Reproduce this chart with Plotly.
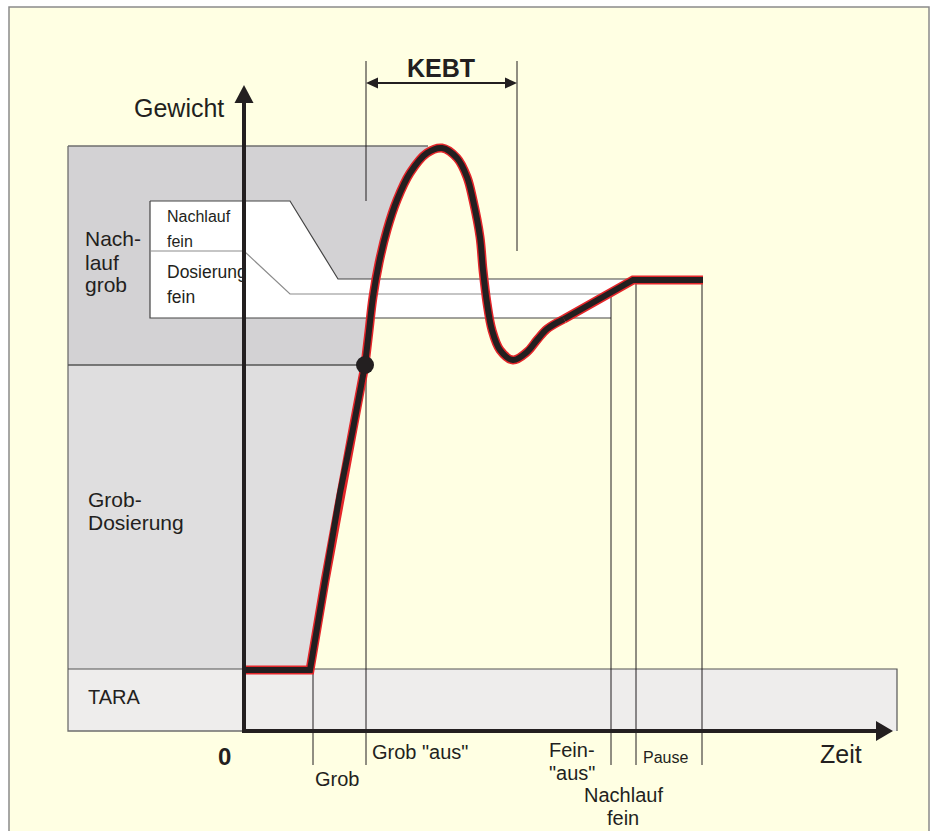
import plotly.graph_objects as go

# ---------------- data (time t, weight w; origin = axis crossing) ----------------
curve_t = [-2, 66, 81, 96, 109, 121, 125, 129, 135, 143, 153, 166, 183, 198, 213, 223,
           229, 236, 239, 243, 248, 256, 269, 283, 293, 303, 320, 389, 459]
curve_w = [61, 61, 150, 238, 302, 366, 400, 434, 468, 501, 531, 558, 578, 583, 573, 554,
           531, 494, 461, 428, 401, 381, 371, 379, 391, 402, 412, 451, 451]
DOT_IDX = 5          # Grob "aus" point on the curve; smooth part starts here
SPLINE_TO = 26       # last index of the smooth part
PEAK_IDX = 13

# levels of the bands (weight)
tara_w = 62
grob_dos_w = 366
nachlauf_grob_w = 585
zone_left_t = -176
tara_right_t = 653
gray_top_right_t = 184

# fine-dosing box
box_left_t = -94
box_top_w = 530
box_div_w = 480
box_bottom_w = 413
nachlauf_fein_diag_t = [46, 94]
nachlauf_fein_w = 452
nachlauf_fein_end_t = 393
dos_fein_diag_t = [0, 46]
dos_fein_w = 437
dos_fein_end_t = 367

# events on the time axis
event_labels = ["Grob", 'Grob "aus"', 'Fein-"aus"', "Nachlauf fein", "Pause"]
event_t = [69, 122, 367, 392, 458]
event_top_w = [62, 366, 437, 451, 451]
event_bottom_w = -34

# KEBT span
kebt_t = [122, 273]
kebt_w = 648
kebt_line_top_w = 670
kebt_line_bottom_w = [530, 480]

# axes
yaxis_tip_w = 646
xaxis_tip_t = 649

# ---------------- style ----------------
CREAM = "#FFFFE3"
DARK_GRAY = "#D3D2D4"
LIGHT_GRAY = "#DFDEDF"
TARA_GRAY = "#EEEDEC"
INK = "#231F20"
RED = "#E4262A"
FONT = "Liberation Sans, Arial, sans-serif"

fig = go.Figure()


def poly(ts, ws, color):
    fig.add_trace(go.Scatter(x=ts, y=ws, mode="lines", fill="toself", fillcolor=color,
                             line=dict(width=0, color=color), hoverinfo="skip"))


def line(ts, ws, color, width, shape="linear"):
    fig.add_trace(go.Scatter(x=ts, y=ws, mode="lines",
                             line=dict(color=color, width=width, shape=shape),
                             hoverinfo="skip"))


# gray zones left of the rising curve
rise_t = curve_t[1:PEAK_IDX]
rise_w = curve_w[1:PEAK_IDX]
dark_t = [zone_left_t, gray_top_right_t] + [t for t, w in zip(rise_t[::-1], rise_w[::-1]) if w >= grob_dos_w] + [zone_left_t]
dark_w = [nachlauf_grob_w, nachlauf_grob_w] + [w for w in rise_w[::-1] if w >= grob_dos_w] + [grob_dos_w]
poly(dark_t, dark_w, DARK_GRAY)

light_t = [zone_left_t] + [t for t, w in zip(rise_t[::-1], rise_w[::-1]) if w <= grob_dos_w] + [curve_t[1], zone_left_t]
light_w = [grob_dos_w] + [w for w in rise_w[::-1] if w <= grob_dos_w] + [tara_w, tara_w]
poly(light_t, light_w, LIGHT_GRAY)

# TARA band
poly([zone_left_t, tara_right_t, tara_right_t, zone_left_t],
     [0, 0, tara_w, tara_w], TARA_GRAY)

# white fine-dosing band
white_t = [box_left_t, nachlauf_fein_diag_t[0], nachlauf_fein_diag_t[1], curve_t[-2],
           dos_fein_end_t, dos_fein_end_t, box_left_t]
white_w = [box_top_w, box_top_w, nachlauf_fein_w, nachlauf_fein_w,
           dos_fein_w, box_bottom_w, box_bottom_w]
poly(white_t, white_w, "white")

# edges of zones
EDGE = "#6E6E6E"
line([zone_left_t, gray_top_right_t], [nachlauf_grob_w] * 2, EDGE, 1.3)
line([zone_left_t, zone_left_t, 0], [nachlauf_grob_w, 0, 0], EDGE, 1.3)
line([zone_left_t, curve_t[DOT_IDX]], [grob_dos_w] * 2, "#555555", 1.3)
line([zone_left_t, tara_right_t, tara_right_t], [tara_w, tara_w, 0], "#555555", 1.2)

# box lines
line([box_left_t, nachlauf_fein_diag_t[0], nachlauf_fein_diag_t[1], nachlauf_fein_end_t],
     [box_top_w, box_top_w, nachlauf_fein_w, nachlauf_fein_w], "#444444", 1.2)
line([box_left_t, box_left_t, dos_fein_end_t], [box_top_w, box_bottom_w, box_bottom_w], "#444444", 1.2)
line([box_left_t, dos_fein_diag_t[0], dos_fein_diag_t[1], dos_fein_end_t],
     [box_div_w, box_div_w, dos_fein_w, dos_fein_w], "#8C8C8C", 1.2)

# event lines
for t, top in zip(event_t, event_top_w):
    line([t, t], [event_bottom_w, top], INK, 1)
for t, bot in zip(kebt_t, kebt_line_bottom_w):
    line([t, t], [kebt_line_top_w, bot], INK, 1)

# process curve: red outline, black core
for color, width in ((RED, 9), (INK, 6)):
    line(curve_t[:DOT_IDX + 1], curve_w[:DOT_IDX + 1], color, width)
    line(curve_t[DOT_IDX:SPLINE_TO + 1], curve_w[DOT_IDX:SPLINE_TO + 1], color, width, "spline")
    line(curve_t[SPLINE_TO:], curve_w[SPLINE_TO:], color, width)

fig.add_trace(go.Scatter(x=[curve_t[DOT_IDX]], y=[curve_w[DOT_IDX]], mode="markers",
                         marker=dict(size=18, color=INK), hoverinfo="skip"))

# axes with arrowheads
AX_W = 4
Y_HEAD_LEN, Y_HEAD_HALF = 18, 9.5
X_HEAD_LEN, X_HEAD_HALF = 17, 10
line([0, 0], [-2, yaxis_tip_w - Y_HEAD_LEN + 2], INK, AX_W)
line([-2, xaxis_tip_t - X_HEAD_LEN + 2], [0, 0], INK, AX_W)
poly([-Y_HEAD_HALF, Y_HEAD_HALF, 0, -Y_HEAD_HALF],
     [yaxis_tip_w - Y_HEAD_LEN, yaxis_tip_w - Y_HEAD_LEN, yaxis_tip_w, yaxis_tip_w - Y_HEAD_LEN], INK)
poly([xaxis_tip_t - X_HEAD_LEN, xaxis_tip_t - X_HEAD_LEN, xaxis_tip_t, xaxis_tip_t - X_HEAD_LEN],
     [X_HEAD_HALF, -X_HEAD_HALF, 0, X_HEAD_HALF], INK)

# KEBT double arrow
K_LEN, K_HALF = 12, 5.5
line([kebt_t[0] + K_LEN - 1, kebt_t[1] - K_LEN + 1], [kebt_w] * 2, INK, 2)
poly([kebt_t[0], kebt_t[0] + K_LEN, kebt_t[0] + K_LEN, kebt_t[0]],
     [kebt_w, kebt_w + K_HALF, kebt_w - K_HALF, kebt_w], INK)
poly([kebt_t[1], kebt_t[1] - K_LEN, kebt_t[1] - K_LEN, kebt_t[1]],
     [kebt_w, kebt_w + K_HALF, kebt_w - K_HALF, kebt_w], INK)

# ---------------- texts ----------------
texts = [
    # text, t, w, size, anchor, bold
    ("Gewicht", -65, 623, 25, "center", False),
    ("KEBT", 197, 663, 25, "center", True),
    ("0", -20, -25, 24, "center", True),
    ("Zeit", 597, -23, 25, "center", False),
    ("TARA", -158, 34, 20, "left", False),
    ("Grob-", -158, 231.5, 21, "left", False),
    ("Dosierung", -158, 208.5, 21, "left", False),
    ("Nach-", -161, 492.5, 21, "left", False),
    ("lauf", -161, 468.5, 21, "left", False),
    ("grob", -161, 447, 21, "left", False),
    ("Nachlauf", -79, 514.5, 16, "left", False),
    ("fein", -79, 490, 16, "left", False),
    ("Dosierung", -79, 459.5, 17.5, "left", False),
    ("fein", -79, 434.5, 17.5, "left", False),
    ("Grob", event_t[0], -48, 20, "left", False),
    ('Grob "aus"', event_t[1] + 4, -21, 20, "left", False),
    ("Fein-", 327.5, -19, 20, "center", False),
    ('"aus"', 327.5, -41.5, 20, "center", False),
    ("Nachlauf", 379.5, -63.5, 20, "center", False),
    ("fein", 379, -86.5, 20, "center", False),
    ("Pause", 421, -26.5, 16, "center", False),
]
for txt, t, w, size, anchor, bold in texts:
    fig.add_annotation(x=t, y=w, xref="x", yref="y", text=f"<b>{txt}</b>" if bold else txt,
                       showarrow=False, xanchor=anchor, yanchor="middle",
                       font=dict(family=FONT, size=size, color=INK))

# ---------------- layout ----------------
fig.update_layout(
    width=931, height=831, margin=dict(l=0, r=0, t=0, b=0),
    paper_bgcolor="white", plot_bgcolor="white", showlegend=False,
    xaxis=dict(range=[-244, 687], visible=False, fixedrange=True),
    yaxis=dict(range=[-100, 731], visible=False, fixedrange=True),
    shapes=[dict(type="rect", xref="x", yref="y", x0=-235, x1=685, y0=-120, y1=724,
                 fillcolor=CREAM, line=dict(color="#8A8A8A", width=1.5), layer="below")],
)

fig.write_html("out.html", config={"displayModeBar": False},
               post_script="document.body.style.margin='0px';")
